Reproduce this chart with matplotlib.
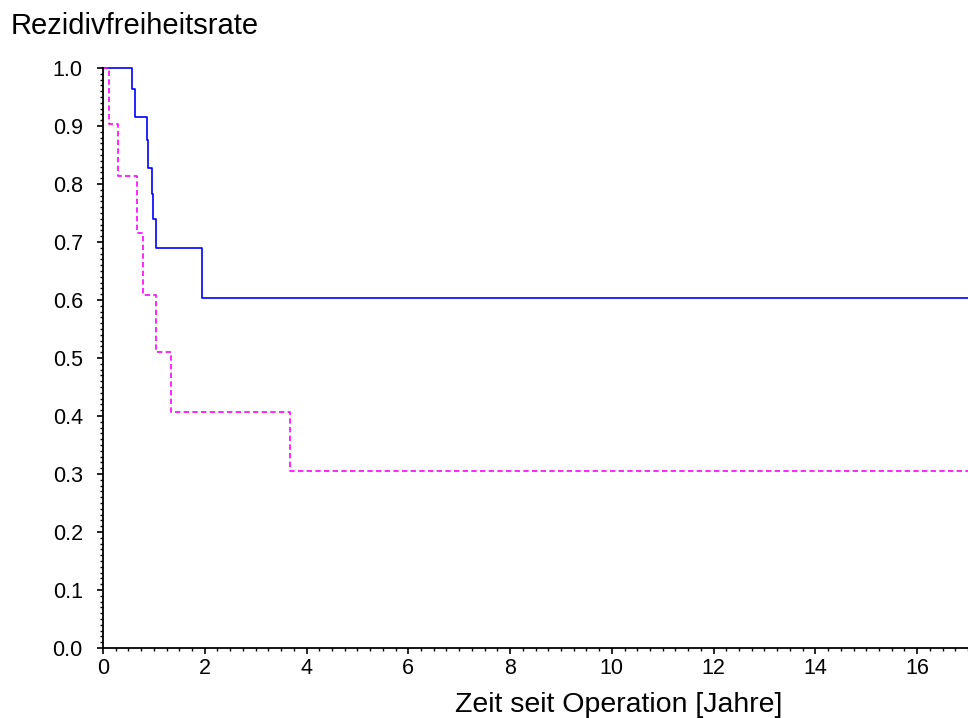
import numpy as np
import matplotlib
matplotlib.use("Agg")
from matplotlib import pyplot as plt
from matplotlib.ticker import MultipleLocator

# Kaplan-Meier Schätzwerte
t_blau = [0, 0.575, 0.63, 0.86, 0.88, 0.97, 0.99, 1.05, 1.955, 17.2]
s_blau = [1.0, 0.963, 0.916, 0.876, 0.828, 0.783, 0.739, 0.690, 0.603, 0.603]

t_mag = [0, 0.118, 0.288, 0.66, 0.79, 1.05, 1.33, 3.67, 17.2]
s_mag = [1.0, 0.903, 0.814, 0.716, 0.609, 0.511, 0.407, 0.306, 0.306]

x_ticks = [0, 2, 4, 6, 8, 10, 12, 14, 16]
y_ticks = [0.0, 0.1, 0.2, 0.3, 0.4, 0.5, 0.6, 0.7, 0.8, 0.9, 1.0]

plt.rcParams['font.family'] = ['Liberation Sans', 'DejaVu Sans']

fig = plt.figure(figsize=(9.68, 7.18), dpi=100)
ax = fig.add_axes([103/968, 70/718, 865/968, 580/718])

ax.step(t_blau, s_blau, where='post', color='#0000ff', lw=1.2, clip_on=False)
ax.step(t_mag, s_mag, where='post', color='#ff00ff', lw=1.2,
        linestyle=(0, (3.2, 2.0)), clip_on=False)

ax.set_xlim(0, 17)
ax.set_ylim(0, 1.0)
ax.spines['top'].set_visible(False)
ax.spines['right'].set_visible(False)
ax.spines['left'].set_linewidth(1.3)
ax.spines['bottom'].set_linewidth(1.3)

ax.set_xticks(x_ticks)
ax.set_xticklabels([str(v) for v in x_ticks])
ax.set_yticks(y_ticks)
ax.set_yticklabels(['%.1f' % v for v in y_ticks])
ax.xaxis.set_minor_locator(MultipleLocator(0.25))
ax.yaxis.set_minor_locator(MultipleLocator(0.01))

ax.tick_params(axis='both', which='major', direction='out', length=4.5, width=1.2,
               labelsize=15.5, colors='black')
ax.tick_params(axis='both', which='minor', direction='out', length=2.5, width=1.0)
ax.tick_params(axis='x', which='major', pad=3)
ax.tick_params(axis='y', which='major', pad=10)

fig.text(11/968, 1 - 34/718, 'Rezidivfreiheitsrate', fontsize=21, ha='left', va='baseline')
fig.text(619/968, 1 - 712/718, 'Zeit seit Operation [Jahre]', fontsize=20.5,
         ha='center', va='baseline')

fig.savefig('out.png', dpi=100)
